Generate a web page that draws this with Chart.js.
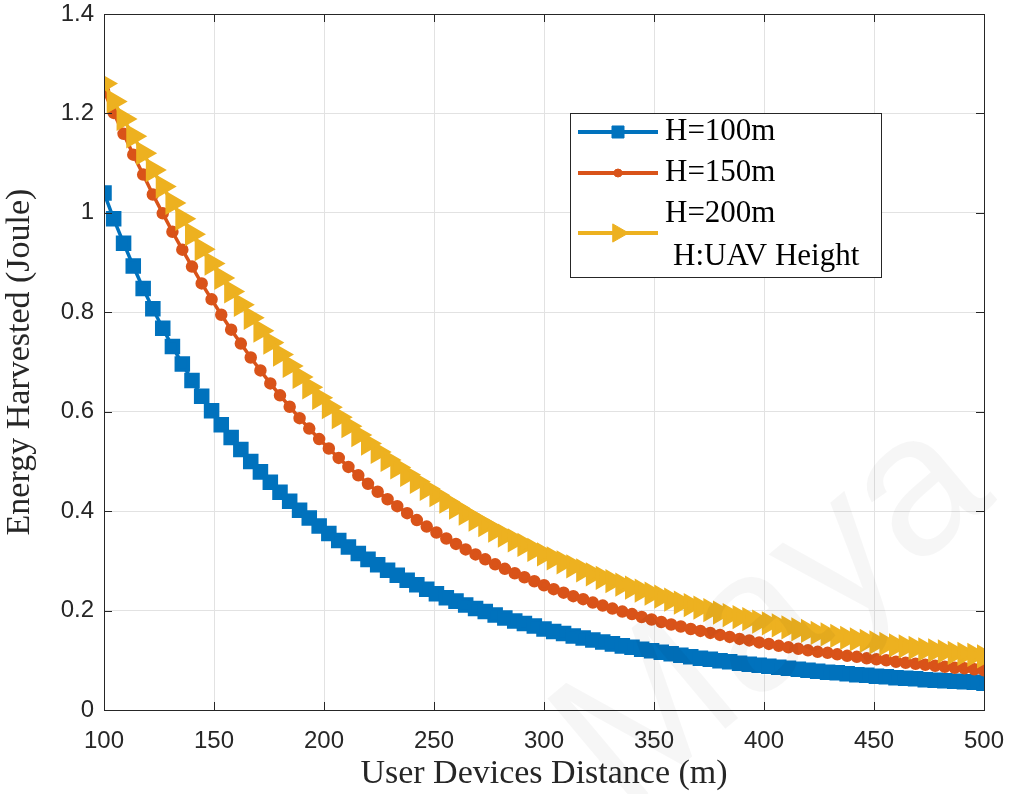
<!DOCTYPE html>
<html>
<head>
<meta charset="utf-8">
<script src="https://cdn.jsdelivr.net/npm/chart.js@4/dist/chart.umd.min.js"></script>
<style>
  html, body { margin: 0; padding: 0; background: #fff; }
  #wrap { width: 1012px; height: 794px; position: relative; }
</style>
</head>
<body>
<div id="wrap"><canvas id="chart" width="1012" height="794"></canvas></div>
<script>
// distance samples (m)
const distance = [
  100, 104.4, 108.9, 113.3, 117.8, 122.2, 126.7, 131.1, 135.6,
  140, 144.4, 148.9, 153.3, 157.8, 162.2, 166.7, 171.1, 175.6,
  180, 184.4, 188.9, 193.3, 197.8, 202.2, 206.7, 211.1, 215.6,
  220, 224.4, 228.9, 233.3, 237.8, 242.2, 246.7, 251.1, 255.6,
  260, 264.4, 268.9, 273.3, 277.8, 282.2, 286.7, 291.1, 295.6,
  300, 304.4, 308.9, 313.3, 317.8, 322.2, 326.7, 331.1, 335.6,
  340, 344.4, 348.9, 353.3, 357.8, 362.2, 366.7, 371.1, 375.6,
  380, 384.4, 388.9, 393.3, 397.8, 402.2, 406.7, 411.1, 415.6,
  420, 424.4, 428.9, 433.3, 437.8, 442.2, 446.7, 451.1, 455.6,
  460, 464.4, 468.9, 473.3, 477.8, 482.2, 486.7, 491.1, 495.6,
  500
];

// harvested energy (J) for each UAV height
const energyH100 = [
  1.040, 0.988, 0.939, 0.893, 0.848, 0.807, 0.768, 0.731, 0.696,
  0.663, 0.631, 0.602, 0.574, 0.548, 0.524, 0.500, 0.479, 0.458,
  0.438, 0.420, 0.402, 0.386, 0.370, 0.355, 0.341, 0.328, 0.315,
  0.303, 0.292, 0.281, 0.271, 0.261, 0.252, 0.243, 0.234, 0.226,
  0.219, 0.211, 0.204, 0.198, 0.191, 0.185, 0.179, 0.174, 0.169,
  0.163, 0.158, 0.154, 0.149, 0.145, 0.141, 0.137, 0.133, 0.129,
  0.126, 0.122, 0.119, 0.116, 0.113, 0.110, 0.107, 0.104, 0.102,
  0.099, 0.097, 0.094, 0.092, 0.090, 0.088, 0.086, 0.084, 0.082,
  0.080, 0.078, 0.076, 0.075, 0.073, 0.071, 0.070, 0.068, 0.067,
  0.065, 0.064, 0.063, 0.061, 0.060, 0.059, 0.058, 0.057, 0.056,
  0.054
];
const energyH150 = [
  1.245, 1.201, 1.159, 1.117, 1.077, 1.037, 0.999, 0.962, 0.926,
  0.892, 0.858, 0.826, 0.795, 0.765, 0.737, 0.709, 0.683, 0.657,
  0.633, 0.610, 0.587, 0.566, 0.545, 0.526, 0.507, 0.489, 0.472,
  0.455, 0.439, 0.424, 0.410, 0.396, 0.382, 0.369, 0.357, 0.345,
  0.334, 0.323, 0.313, 0.303, 0.293, 0.284, 0.275, 0.267, 0.259,
  0.251, 0.243, 0.236, 0.229, 0.223, 0.216, 0.210, 0.204, 0.198,
  0.193, 0.187, 0.182, 0.177, 0.172, 0.168, 0.163, 0.159, 0.155,
  0.151, 0.147, 0.143, 0.140, 0.136, 0.133, 0.129, 0.126, 0.123,
  0.120, 0.117, 0.115, 0.112, 0.109, 0.107, 0.104, 0.102, 0.100,
  0.097, 0.095, 0.093, 0.091, 0.089, 0.087, 0.085, 0.084, 0.082,
  0.080
];
const energyH200 = [
  1.260, 1.224, 1.189, 1.154, 1.120, 1.086, 1.053, 1.020, 0.988,
  0.957, 0.927, 0.898, 0.869, 0.842, 0.815, 0.789, 0.763, 0.739,
  0.715, 0.692, 0.670, 0.649, 0.628, 0.609, 0.589, 0.571, 0.553,
  0.536, 0.519, 0.503, 0.488, 0.473, 0.459, 0.445, 0.432, 0.419,
  0.407, 0.395, 0.383, 0.372, 0.361, 0.351, 0.341, 0.332, 0.322,
  0.313, 0.305, 0.297, 0.289, 0.281, 0.273, 0.266, 0.259, 0.252,
  0.246, 0.240, 0.234, 0.228, 0.222, 0.216, 0.211, 0.206, 0.201,
  0.196, 0.191, 0.187, 0.183, 0.178, 0.174, 0.170, 0.166, 0.162,
  0.159, 0.155, 0.152, 0.149, 0.145, 0.142, 0.139, 0.136, 0.133,
  0.130, 0.128, 0.125, 0.122, 0.120, 0.118, 0.115, 0.113, 0.111,
  0.108
];

const seriesLabels = ['H=100m', 'H=150m', 'H=200m'];
const legendNote = 'H:UAV Height';

const serif = '"Liberation Serif", "Times New Roman", serif';
const sans = '"Liberation Sans", Arial, Helvetica, sans-serif';

function toPoints(ys) {
  return distance.map((d, i) => ({ x: d, y: ys[i] }));
}

// box around the axes, inward tick marks on all four sides
const axesBox = {
  id: 'axesBox',
  afterDatasetsDraw(chart) {
    const { ctx, chartArea: a, scales } = chart;
    ctx.save();
    ctx.strokeStyle = '#262626';
    ctx.lineWidth = 1;
    ctx.strokeRect(a.left + 0.5, a.top + 0.5, a.right - a.left, a.bottom - a.top);
    const len = 8;
    ctx.beginPath();
    scales.x.ticks.forEach(t => {
      const px = Math.round(scales.x.getPixelForValue(t.value)) + 0.5;
      ctx.moveTo(px, a.bottom); ctx.lineTo(px, a.bottom - len);
      ctx.moveTo(px, a.top); ctx.lineTo(px, a.top + len);
    });
    scales.y.ticks.forEach(t => {
      const py = Math.round(scales.y.getPixelForValue(t.value)) + 0.5;
      ctx.moveTo(a.left, py); ctx.lineTo(a.left + len, py);
      ctx.moveTo(a.right, py); ctx.lineTo(a.right - len, py);
    });
    ctx.stroke();
    ctx.restore();
  }
};

// legend box inside the plot area
const insideLegend = {
  id: 'insideLegend',
  afterDraw(chart) {
    const ctx = chart.ctx;
    const box = { x: 570, y: 113, w: 311, h: 164 };
    ctx.save();
    ctx.fillStyle = '#fff';
    ctx.fillRect(box.x, box.y, box.w, box.h);
    ctx.strokeStyle = '#262626';
    ctx.lineWidth = 1;
    ctx.strokeRect(box.x + 0.5, box.y + 0.5, box.w, box.h);

    const rows = [132, 173, 233];
    const textRows = [132, 173, 214];
    ctx.font = '31px ' + serif;
    ctx.textBaseline = 'middle';
    chart.data.datasets.forEach((ds, i) => {
      const y = rows[i];
      ctx.strokeStyle = ds.borderColor;
      ctx.lineWidth = 4;
      ctx.beginPath();
      ctx.moveTo(578, y);
      ctx.lineTo(658, y);
      ctx.stroke();
      ctx.fillStyle = ds.borderColor;
      ctx.lineWidth = 1;
      Chart.helpers.drawPoint(ctx, {
        pointStyle: ds.pointStyle,
        radius: ds.legendRadius,
        rotation: ds.pointRotation || 0,
        borderWidth: 1
      }, 618, y);
      ctx.fillStyle = '#000';
      ctx.fillText(ds.label, 665, textRows[i]);
    });
    ctx.fillStyle = '#000';
    ctx.fillText(legendNote, 673, 257);
    ctx.restore();
  }
};

// faint diagonal watermark
const watermark = {
  id: 'watermark',
  afterDraw(chart) {
    const ctx = chart.ctx;
    ctx.save();
    ctx.translate(775, 615);
    ctx.rotate(-40 * Math.PI / 180);
    ctx.font = '200px ' + sans;
    ctx.textAlign = 'center';
    ctx.textBaseline = 'middle';
    ctx.fillStyle = 'rgba(0, 0, 0, 0.035)';
    ctx.fillText('Maya', 0, 0);
    ctx.restore();
  }
};

document.addEventListener('DOMContentLoaded', () => {
  const ctx = document.getElementById('chart').getContext('2d');

  new Chart(ctx, {
    type: 'line',
    data: {
      datasets: [
        {
          label: seriesLabels[0],
          data: toPoints(energyH100),
          borderColor: '#0072BD',
          backgroundColor: '#0072BD',
          pointBackgroundColor: '#0072BD',
          pointBorderColor: '#0072BD',
          pointStyle: 'rect',
          pointRadius: 8.5,
          legendRadius: 8.5,
          borderWidth: 3.5,
          order: 3
        },
        {
          label: seriesLabels[1],
          data: toPoints(energyH150),
          borderColor: '#D95319',
          backgroundColor: '#D95319',
          pointBackgroundColor: '#D95319',
          pointBorderColor: '#D95319',
          pointStyle: 'circle',
          pointRadius: 4.5,
          legendRadius: 4,
          borderWidth: 3.5,
          order: 2
        },
        {
          label: seriesLabels[2],
          data: toPoints(energyH200),
          borderColor: '#EDB120',
          backgroundColor: '#EDB120',
          pointBackgroundColor: '#EDB120',
          pointBorderColor: '#EDB120',
          pointStyle: 'triangle',
          pointRotation: 90,
          pointRadius: 10.5,
          legendRadius: 10.5,
          borderWidth: 3.5,
          order: 1
        }
      ]
    },
    options: {
      responsive: false,
      animation: false,
      layout: { padding: { top: 14, right: 28, left: 0, bottom: 0 } },
      plugins: {
        legend: { display: false },
        tooltip: { enabled: false }
      },
      elements: {
        line: { tension: 0 },
        point: { borderWidth: 1 }
      },
      scales: {
        x: {
          type: 'linear',
          min: 100,
          max: 500,
          afterFit: s => {
            s.height = 84;
            s.paddingLeft = 0;
            s.paddingRight = 0;
          },
          ticks: {
            stepSize: 50,
            color: '#262626',
            font: { family: sans, size: 24 },
            padding: 17,
            maxRotation: 0
          },
          grid: { color: '#e2e2e2', lineWidth: 1, drawTicks: false },
          border: { display: false },
          title: {
            display: true,
            text: 'User Devices Distance (m)',
            color: '#262626',
            font: { family: serif, size: 34 },
            padding: { top: 0, bottom: 0 }
          }
        },
        y: {
          min: 0,
          max: 1.4,
          afterFit: s => {
            s.width = 104;
            s.paddingTop = 0;
            s.paddingBottom = 0;
          },
          ticks: {
            stepSize: 0.2,
            color: '#262626',
            font: { family: sans, size: 24 },
            padding: 10,
            callback: v => String(Number(v.toFixed(1)))
          },
          grid: { color: '#e2e2e2', lineWidth: 1, drawTicks: false },
          border: { display: false },
          title: {
            display: true,
            text: 'Energy Harvested (Joule)',
            color: '#262626',
            font: { family: serif, size: 34 },
            padding: { top: 0, bottom: 4 }
          }
        }
      }
    },
    plugins: [axesBox, watermark, insideLegend]
  });
});
</script>
</body>
</html>
